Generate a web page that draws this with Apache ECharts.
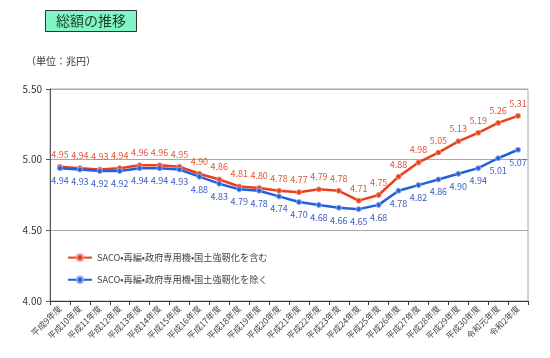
<!DOCTYPE html>
<html><head><meta charset="utf-8">
<script src="https://cdn.jsdelivr.net/npm/echarts@6/dist/echarts.min.js"></script>
<style>html,body{margin:0;padding:0;background:#fff}#c{width:550px;height:358px}</style>
</head><body><div id="c"></div>
<script>
const categories = ['平成9年度','平成10年度','平成11年度','平成12年度','平成13年度','平成14年度','平成15年度','平成16年度','平成17年度','平成18年度','平成19年度','平成20年度','平成21年度','平成22年度','平成23年度','平成24年度','平成25年度','平成26年度','平成27年度','平成28年度','平成29年度','平成30年度','令和元年度','令和2年度'];
const incl = [4.95,4.94,4.93,4.94,4.96,4.96,4.95,4.90,4.86,4.81,4.80,4.78,4.77,4.79,4.78,4.71,4.75,4.88,4.98,5.05,5.13,5.19,5.26,5.31];
const excl = [4.94,4.93,4.92,4.92,4.94,4.94,4.93,4.88,4.83,4.79,4.78,4.74,4.70,4.68,4.66,4.65,4.68,4.78,4.82,4.86,4.90,4.94,5.01,5.07];
const nameIncl = 'SACO•再編•政府専用機•国土強靭化を含む';
const nameExcl = 'SACO•再編•政府専用機•国土強靭化を除く';
const font = '"Noto Sans CJK JP", "Noto Sans", sans-serif';
const chart = echarts.init(document.getElementById('c'));
chart.setOption({
  animation:false,
  textStyle:{fontFamily:font},
  title:[
    {text:'総額の推移',left:45,top:10,padding:[4,11,4,11],backgroundColor:'#80f5c8',borderColor:'#333',borderWidth:1,
     textStyle:{fontSize:14,fontWeight:'normal',color:'#1d3d1d',fontFamily:font,lineHeight:14}},
    {text:'（単位：兆円）',left:26,top:56,padding:0,textStyle:{fontSize:10,fontWeight:'normal',color:'#333',fontFamily:font}}
  ],
  legend:{orient:'vertical',left:62,top:248,itemGap:13,itemWidth:24,itemHeight:8,
    textStyle:{fontSize:9.2,color:'#444',fontFamily:font},data:[nameIncl,nameExcl]},
  grid:{left:50,right:22,top:89,bottom:57,show:true,borderColor:'#aaa',borderWidth:1},
  xAxis:{type:'category',data:categories,boundaryGap:true,
    axisLine:{lineStyle:{color:'#333'}},axisTick:{show:true,length:4,lineStyle:{color:'#333'}},
    axisLabel:{rotate:45,fontSize:8.5,color:'#444',interval:0,margin:6}},
  yAxis:{type:'value',min:4,max:5.5,interval:0.5,
    axisLine:{show:true,lineStyle:{color:'#555'}},axisTick:{show:true,length:4,lineStyle:{color:'#555'}},
    splitLine:{lineStyle:{color:'#aaa'}},
    axisLabel:{fontSize:10,color:'#333',formatter:v=>v.toFixed(2)}},
  series:[
    {name:nameIncl,type:'line',data:incl,symbol:'circle',symbolSize:5,
     lineStyle:{color:'#e8401c',width:2.5},itemStyle:{color:'#e8401c',borderColor:'#f0907a',borderWidth:1},
     label:{show:true,position:'top',distance:5,fontSize:9,color:'#e05535',formatter:p=>p.value.toFixed(2)}},
    {name:nameExcl,type:'line',data:excl,symbol:'circle',symbolSize:5,
     lineStyle:{color:'#2060e0',width:2.5},itemStyle:{color:'#2060e0',borderColor:'#90a8e8',borderWidth:1},
     label:{show:true,position:'bottom',distance:5,fontSize:9,color:'#3d5cc0',formatter:p=>p.value.toFixed(2)}}
  ]
});
</script></body></html>
